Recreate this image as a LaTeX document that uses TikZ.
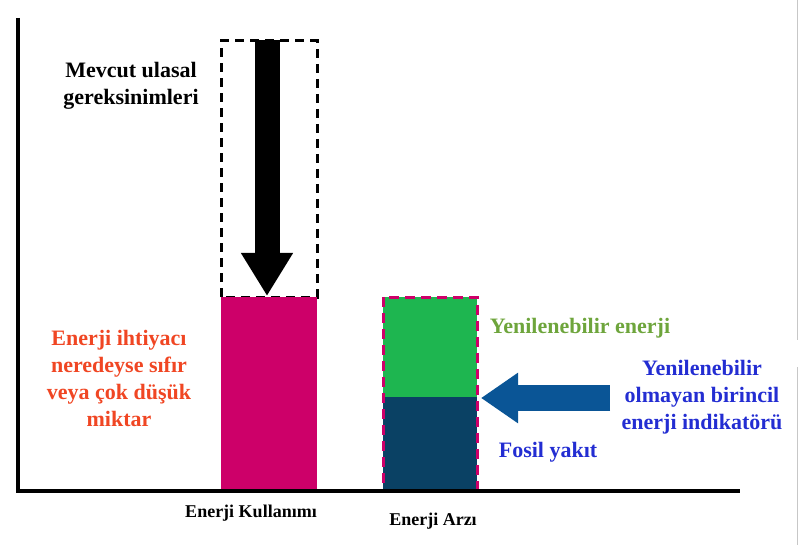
\documentclass[tikz,border=0pt]{standalone}
\usepackage{fontspec}
\setmainfont{Liberation Serif}
\usetikzlibrary{arrows.meta}
\definecolor{BarPink}{RGB}{205,0,105}
\definecolor{ReGreen}{RGB}{30,182,80}
\definecolor{FosBlue}{RGB}{10,65,100}
\definecolor{ArrBlue}{RGB}{10,85,150}
\definecolor{TxtRed}{RGB}{240,70,35}
\definecolor{TxtGreen}{RGB}{110,165,60}
\definecolor{TxtBlue}{RGB}{35,45,210}
\tikzset{
	axis/.style={draw=black,line width=3.5pt},
	lbl/.style={font=\fontsize{22}{27}\selectfont\bfseries,align=center,inner sep=0pt},
	cat/.style={font=\fontsize{18}{20}\selectfont\bfseries,inner sep=0pt},
	blockarrow/.style={line width=25pt,-{Triangle[length=43pt,width=49pt]}},
}

\begin{document}
\begin{tikzpicture}[x=1pt,y=-1pt]
			\useasboundingbox (0,0) rectangle (800,545);
			\coordinate (o) at (18,491);
			\coordinate (ytop) at (18,18);
			\coordinate (xend) at (740,491);
			\draw[black,line width=3pt,dash pattern=on 9pt off 6pt] (221,297) rectangle (317,41);
			\fill[BarPink] (221,297) rectangle (317,491);
			\fill[ReGreen] (383,297) rectangle (477,397);
			\fill[FosBlue] (383,397) rectangle (477,491);
			\draw[BarPink,line width=3pt,dash pattern=on 10pt off 6pt] (383,297) rectangle (477,491);
			\draw[axis] (ytop)--(o)--(xend);
			\draw[blockarrow] (267,40) -- (267,296);
			\draw[ArrBlue,line width=26pt,-{Triangle[length=37pt,width=48pt]}] (610,398) -- (481,398);
			\draw[black!22,line width=1pt] (797,0)--(797,340) (797,367)--(797,545);
			\node[lbl] (need) at (131,86) {Mevcut ulasal\\gereksinimleri};
			\node[lbl,text=TxtRed] (low) at (119,378) {Enerji ihtiyacı\\neredeyse sıfır\\veya çok düşük\\miktar};
			\node[lbl,text=TxtGreen] (ren) at (580,328) {Yenilenebilir enerji};
			\node[lbl,text=TxtBlue] (ind) at (702,397) {Yenilenebilir\\olmayan birincil\\enerji indikatörü};
			\node[lbl,text=TxtBlue] (fos) at (548,452) {Fosil yakıt};
			\node[cat] (use) at (251,513) {Enerji Kullanımı};
			\node[cat] (sup) at (433,521) {Enerji Arzı};
		\end{tikzpicture}
\end{document}
